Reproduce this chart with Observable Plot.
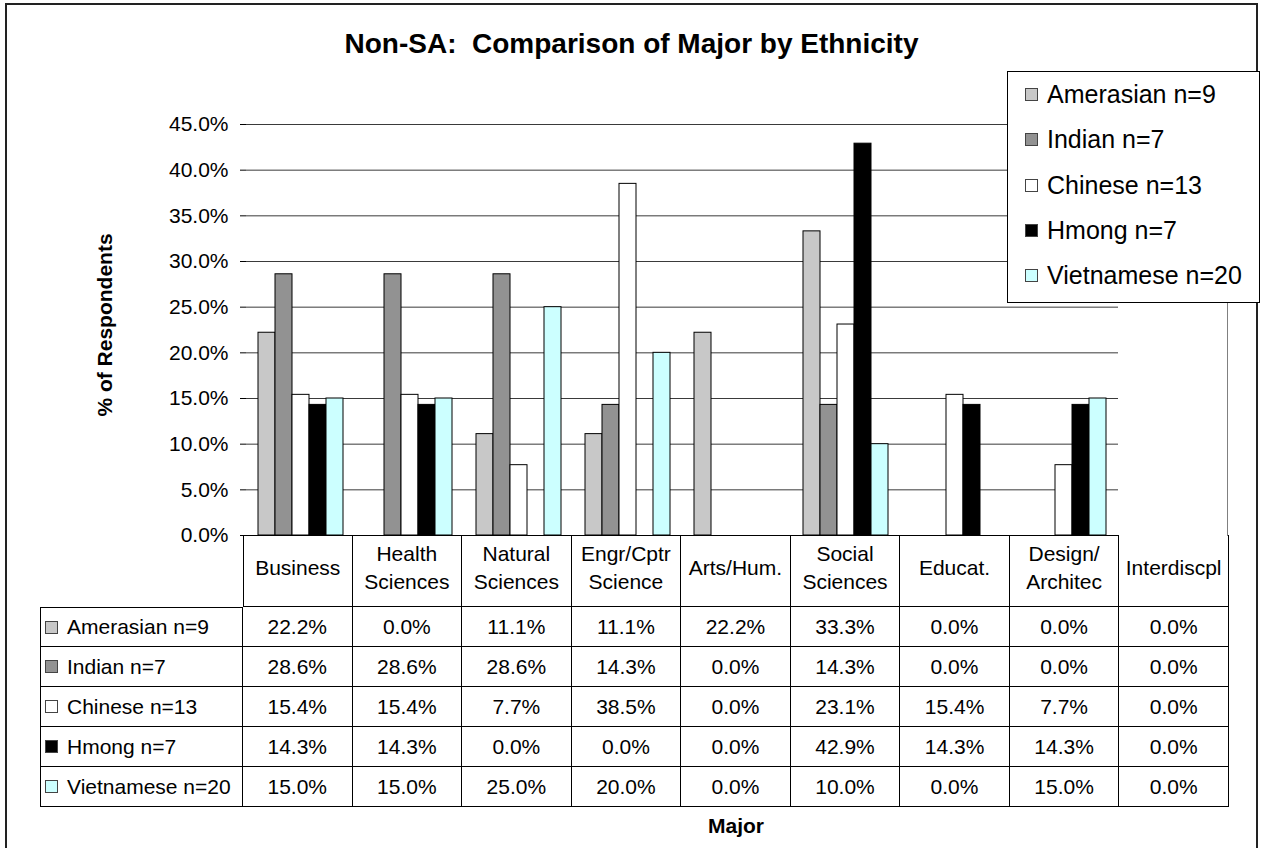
<!DOCTYPE html>
<html><head><meta charset="utf-8">
<script src="https://cdn.jsdelivr.net/npm/d3@7"></script>
<script src="https://cdn.jsdelivr.net/npm/@observablehq/plot@0.6"></script>
<style>
body{margin:0;background:#fff;font-family:Arial,"Liberation Sans",sans-serif;color:#000}
#chart{position:relative;width:1261px;height:848px;overflow:hidden;background:#fff}
#frame{position:absolute;left:5px;top:3px;width:1253px;height:900px;border:2px solid #222;box-sizing:border-box}
#title{position:absolute;left:6px;width:1251px;top:26px;text-align:center;font-weight:bold;font-size:28px;line-height:36px;white-space:nowrap}
#ytitle{position:absolute;left:105px;top:325px;transform:translate(-50%,-50%) rotate(-90deg);font-weight:bold;font-size:21px;white-space:nowrap}
#xtitle{position:absolute;left:736px;top:826px;transform:translate(-50%,-50%);font-weight:bold;font-size:21px;white-space:nowrap}
#plot{position:absolute;left:0;top:0}
#legend{position:absolute;left:1007px;top:71px;width:253px;height:232px;border:1px solid #000;background:#fff;box-sizing:border-box}
.lg{height:45.3px;display:flex;align-items:center;font-size:25px;white-space:nowrap}
.lg .sw{width:13px;height:13px;border:1px solid #444;box-sizing:border-box;margin-left:17px;margin-right:9px;flex:none}
#tbl{position:absolute;left:40px;top:535px;display:grid;grid-template-columns:203px repeat(9,109.56px);grid-template-rows:72px repeat(5,40px);font-size:21px}
#tbl div{box-sizing:border-box;display:flex;align-items:center;justify-content:center;white-space:nowrap}
#tbl .hd{border-right:1px solid #000;border-bottom:1px solid #000;text-align:center;line-height:28px;padding-bottom:6px}
#tbl .hd.first{border-left:1px solid #000}
#tbl .lb{justify-content:flex-start;border-left:1px solid #000;border-right:1px solid #000;border-bottom:1px solid #000;padding-left:4px}
#tbl .lb.first{border-top:1px solid #000}
#tbl .lb .sw{width:13px;height:13px;border:1px solid #444;box-sizing:border-box;margin-right:9px;flex:none}
#tbl .vc{border-right:1px solid #000;border-bottom:1px solid #000}
</style>
</head><body>
<div id="chart">
  <div id="frame"></div>
  <div id="plot"></div>
  <div id="title">Non-SA:&nbsp; Comparison of Major by Ethnicity</div>
  <div id="ytitle">% of Respondents</div>
  <div id="xtitle">Major</div>
  <div id="tbl"></div>
  <div id="legend"></div>
</div>
<script>
// ---- data ----
const majors = ["Business", "Health\nSciences", "Natural\nSciences", "Engr/Cptr\nScience", "Arts/Hum.", "Social\nSciences", "Educat.", "Design/\nArchitec", "Interdiscpl"];
const ethnicities = ["Amerasian n=9", "Indian n=7", "Chinese n=13", "Hmong n=7", "Vietnamese n=20"];
const amerasian  = [22.2, 0.0, 11.1, 11.1, 22.2, 33.3, 0.0, 0.0, 0.0];
const indian     = [28.6, 28.6, 28.6, 14.3, 0.0, 14.3, 0.0, 0.0, 0.0];
const chinese    = [15.4, 15.4, 7.7, 38.5, 0.0, 23.1, 15.4, 7.7, 0.0];
const hmong      = [14.3, 14.3, 0.0, 0.0, 0.0, 42.9, 14.3, 14.3, 0.0];
const vietnamese = [15.0, 15.0, 25.0, 20.0, 0.0, 10.0, 0.0, 15.0, 0.0];
const yTicks = [0, 5, 10, 15, 20, 25, 30, 35, 40, 45];
const colors = ["#c8c8c8", "#929292", "#ffffff", "#000000", "#ccffff"];

const series = [amerasian, indian, chinese, hmong, vietnamese];
const data = ethnicities.flatMap((e, i) => series[i].map((v, j) => ({major: majors[j], eth: e, value: v})));
const fmt = v => v.toFixed(1) + "%";

// ---- chart ----
const plot = Plot.plot({
  width: 1261, height: 560,
  marginLeft: 243, marginRight: 32, marginTop: 124, marginBottom: 25,
  style: {background: "transparent", fontFamily: "Arial, 'Liberation Sans', sans-serif", fontSize: "21px", color: "#000", overflow: "visible"},
  fx: {domain: majors, padding: 0, axis: null, label: null},
  x: {domain: ethnicities, paddingInner: 0, paddingOuter: 0.685, axis: null},
  y: {domain: [0, 45], axis: null},
  color: {domain: ethnicities, range: colors},
  marks: [
    Plot.gridY(yTicks, {stroke: "#3a3a3a", strokeOpacity: 1, strokeWidth: 1}),
    Plot.frame({anchor: "right", facetAnchor: "right", stroke: "#808080", strokeWidth: 1}),
    Plot.barY(data.filter(d => d.value > 0), {fx: "major", x: "eth", y: "value", fill: "eth", stroke: "#000", strokeWidth: 1}),
    Plot.ruleY([0], {stroke: "#000", strokeWidth: 1}),
    Plot.axisY(yTicks, {tickFormat: fmt, tickSize: 6, tickPadding: 12, fontSize: 21, line: true, label: null, stroke: "#000", strokeOpacity: 1})
  ]
});
document.getElementById("plot").appendChild(plot);

// ---- legend ----
const lg = document.getElementById("legend");
ethnicities.forEach((e, i) => {
  const row = document.createElement("div");
  row.className = "lg";
  row.innerHTML = `<span class="sw" style="background:${colors[i]}"></span><span></span>`;
  row.lastChild.textContent = e;
  lg.appendChild(row);
});

// ---- data table ----
const tbl = document.getElementById("tbl");
const corner = document.createElement("div");
tbl.appendChild(corner);
majors.forEach((m, j) => {
  const c = document.createElement("div");
  c.className = "hd" + (j === 0 ? " first" : "");
  c.innerHTML = m.split("\n").map(s => s.replace(/&/g, "&amp;")).join("<br>");
  tbl.appendChild(c);
});
ethnicities.forEach((e, i) => {
  const l = document.createElement("div");
  l.className = "lb" + (i === 0 ? " first" : "");
  l.innerHTML = `<span class="sw" style="background:${colors[i]}"></span><span></span>`;
  l.lastChild.textContent = e;
  tbl.appendChild(l);
  series[i].forEach(v => {
    const c = document.createElement("div");
    c.className = "vc";
    c.textContent = fmt(v);
    tbl.appendChild(c);
  });
});
</script>
</body></html>
